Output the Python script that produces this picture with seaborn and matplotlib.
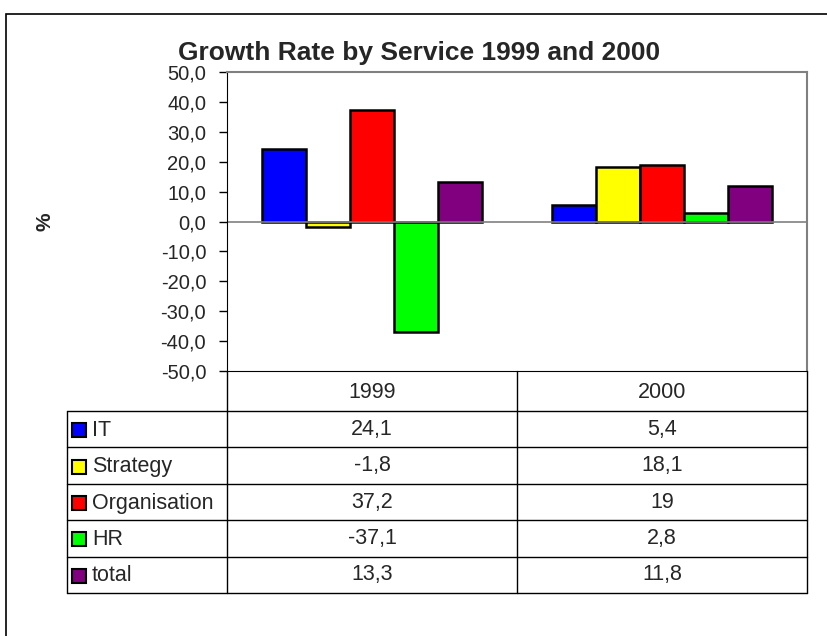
import matplotlib
matplotlib.use("Agg")
import matplotlib.pyplot as plt
from matplotlib.patches import Rectangle
import seaborn as sns
import numpy as np
import pandas as pd

years = ["1999", "2000"]
services = ["IT", "Strategy", "Organisation", "HR", "total"]
growth_1999 = [24.1, -1.8, 37.2, -37.1, 13.3]
growth_2000 = [5.4, 18.1, 19.0, 2.8, 11.8]
colors = ["#0000FF", "#FFFF00", "#FF0000", "#00FF00", "#800080"]


def fmt(v):
    # Excel style numbers with decimal comma
    return f"{v:g}".replace(".", ",")


df = pd.DataFrame({
    "year": np.repeat(years, len(services)),
    "service": services * len(years),
    "value": growth_1999 + growth_2000,
})

sns.set_style("white")
plt.rcParams["font.family"] = ["Liberation Sans", "DejaVu Sans"]

W, H = 827, 636
fig = plt.figure(figsize=(W / 100, H / 100), dpi=100)

# chart area frame (cut by the image edge on right/bottom)
fig.add_artist(Rectangle((6 / W, -0.05), 1.1, 1 - 14 / H + 0.05,
                         transform=fig.transFigure, fill=False,
                         edgecolor="black", lw=1.2, clip_on=False))

ax = fig.add_axes([227 / W, 1 - 371 / H, (807 - 227) / W, (371 - 72) / H])
sns.barplot(data=df, x="year", y="value", hue="service", order=years,
            hue_order=services, palette=colors, saturation=1, width=0.76,
            edgecolor="black", linewidth=1.8, legend=False, ax=ax)

ax.set_ylim(-50, 50)
ax.set_yticks(np.arange(-50, 51, 10))
ax.set_yticklabels([f"{t:.1f}".replace(".", ",") for t in np.arange(-50, 51, 10)],
                   fontsize=14.5)
ax.set_xticks([])
ax.set_xlabel("")
ax.set_ylabel("")
ax.axhline(0, color="#808080", lw=1.2, zorder=1)
ax.tick_params(axis="y", direction="out", length=6, width=1, color="black", pad=9, left=True)
for side in ["top", "right"]:
    ax.spines[side].set_color("#808080")
    ax.spines[side].set_linewidth(1.5)
ax.spines["left"].set_color("black")
ax.spines["bottom"].set_color("black")

fig.text(419 / W, 1 - 53 / H, "Growth Rate by Service 1999 and 2000",
         ha="center", va="center", fontsize=19, fontweight="bold")
fig.text(45 / W, 1 - 222 / H, "%", ha="center", va="center", rotation=90,
         fontsize=15, fontweight="bold")

# data table under the plot
tab = fig.add_axes([67 / W, 1 - 593 / H, (807 - 67) / W, (593 - 371) / H])
tab.set_xlim(67, 807)
tab.set_ylim(593, 371)
tab.axis("off")

col_x = [227, 517, 807]
row_y = np.linspace(411, 593, len(services) + 1)
kw = dict(color="black", lw=1, clip_on=False)

for x in col_x:
    tab.plot([x, x], [371, 593], **kw)
tab.plot([67, 67], [row_y[0], row_y[-1]], **kw)
for y in row_y:
    tab.plot([67, 807], [y, y], **kw)

for i, yr in enumerate(years):
    tab.text((col_x[i] + col_x[i + 1]) / 2, (371 + 411) / 2 + 1, yr,
             ha="center", va="center", fontsize=15.5)

for j, (name, c) in enumerate(zip(services, colors)):
    yc = (row_y[j] + row_y[j + 1]) / 2
    tab.add_patch(Rectangle((72, yc - 6), 14, 14, facecolor=c,
                            edgecolor="black", lw=1.5, clip_on=False))
    tab.text(92, yc + 1, name, ha="left", va="center", fontsize=15.5)
    for i, vals in enumerate([growth_1999, growth_2000]):
        tab.text((col_x[i] + col_x[i + 1]) / 2, yc, fmt(vals[j]),
                 ha="center", va="center", fontsize=15.5)

fig.savefig("out.png", dpi=100, facecolor="white")
plt.close(fig)
